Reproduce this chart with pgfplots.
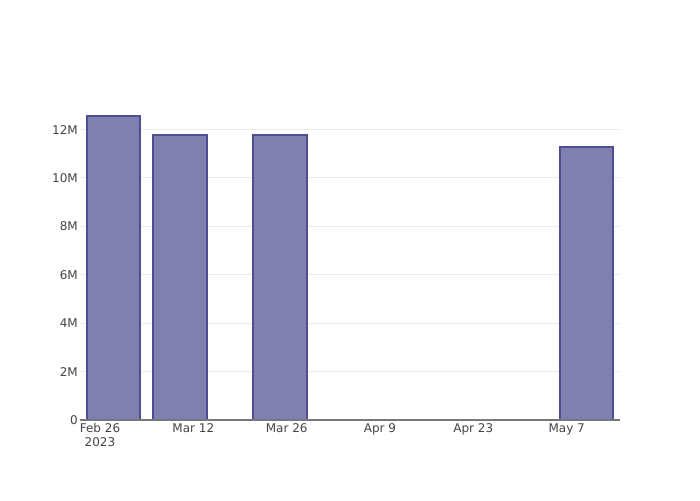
\documentclass[border=0pt]{standalone}
\usepackage{fontspec}
\setmainfont{DejaVu Sans}
\usepackage{pgfplots}
\pgfplotsset{compat=1.18}
\definecolor{barfill}{RGB}{127,127,176}
\definecolor{baredge}{RGB}{78,78,148}
\definecolor{txt}{RGB}{68,68,68}
\definecolor{grd}{RGB}{236,236,236}
\definecolor{zl}{RGB}{120,120,120}
\begin{document}
\fontsize{12pt}{14pt}\selectfont
\begin{tikzpicture}[x=1pt,y=1pt]
\path[use as bounding box] (0,0) rectangle (700,500);
\begin{axis}[at={(80pt,80pt)}, anchor=south west, scale only axis,
  width=540pt, height=320pt,
  xmin=-3, xmax=78, ymin=0, ymax=13.2e6,
  axis line style={draw=none},
  major tick length=0pt,
  ymajorgrids, grid style={grd, line width=0.8pt},
  ytick={0,2e6,4e6,6e6,8e6,10e6,12e6},
  yticklabels={0,2M,4M,6M,8M,10M,12M},
  xtick={0,14,28,42,56,70},
  xticklabels={{Feb 26\\2023},{Mar 12},{Mar 26},{Apr 9},{Apr 23},{May 7}},
  xticklabel style={align=center, text=txt, inner sep=1pt, yshift=-2.5pt},
  yticklabel style={text=txt, inner sep=1pt, xshift=-1pt, yshift=-0.5pt},
  ticklabel style={font=\fontsize{12pt}{14pt}\selectfont},
  scaled y ticks=false,
  /pgf/number format/assume math mode=true,
  clip=false,
]
\addplot[ybar, bar width=8, fill=barfill, draw=baredge, line width=2pt]
  coordinates {(2,12.54e6) (12,11.75e6) (27,11.75e6) (73,11.26e6)};
\draw[zl, line width=1pt] (axis cs:-3,0) -- (axis cs:78,0);
\end{axis}
\end{tikzpicture}
\end{document}
